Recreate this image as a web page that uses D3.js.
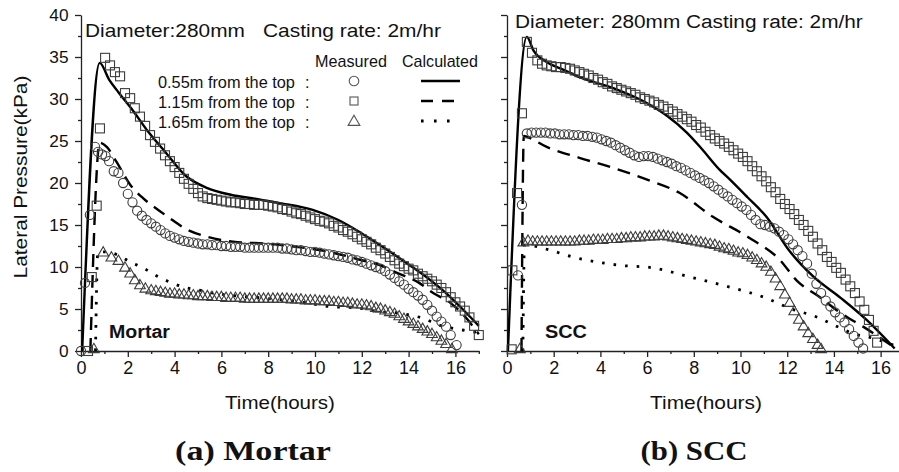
<!DOCTYPE html>
<html><head><meta charset="utf-8">
<script src="https://cdn.jsdelivr.net/npm/d3@7"></script>
<style>body{margin:0;background:#fff}svg{display:block}</style>
</head><body>
<svg id="c" width="899" height="472"></svg>
<script>
// ---------- DATA ----------
const xTickValues = [0, 2, 4, 6, 8, 10, 12, 14, 16];
const yTickValues = [0, 5, 10, 15, 20, 25, 30, 35, 40];
const legendRows = ["0.55m from the top", "1.15m from the top", "1.65m from the top"];
const legendHeads = ["Measured", "Calculated"];

// (a) Mortar — measured [time h, pressure kPa]
const mortarCircles = [[0.0,0],[0.17,8.1],[0.38,16.2],[0.6,24.3],[0.73,23.7],[0.9,23.4],[1.05,23.2],[1.2,22.6],[1.4,21.4],[1.6,21.2],[1.8,20.0],[2.0,18.7],[2.2,17.7],[2.4,16.7],[2.6,16.1],[2.8,15.6],[3.0,15.2],[3.2,14.8],[3.4,14.4],[3.6,14.0],[3.8,13.7],[4.0,13.5],[4.2,13.3],[4.4,13.1],[4.6,13.0],[4.8,12.9],[5.0,12.8],[5.2,12.7],[5.4,12.7],[5.6,12.6],[5.8,12.6],[6.0,12.5],[6.2,12.5],[6.4,12.4],[6.6,12.4],[6.8,12.4],[7.0,12.3],[7.2,12.3],[7.4,12.3],[7.6,12.3],[7.8,12.3],[8.0,12.3],[8.2,12.3],[8.4,12.3],[8.6,12.2],[8.8,12.2],[9.0,12.1],[9.2,12.0],[9.4,12.0],[9.6,11.9],[9.8,11.8],[10.0,11.8],[10.2,11.7],[10.4,11.6],[10.6,11.5],[10.8,11.4],[11.0,11.3],[11.2,11.2],[11.4,11.1],[11.6,10.9],[11.8,10.8],[12.0,10.6],[12.2,10.4],[12.4,10.2],[12.6,10.0],[12.8,9.8],[13.0,9.5],[13.2,9.1],[13.4,8.7],[13.6,8.3],[13.8,7.9],[14.0,7.4],[14.2,7.0],[14.4,6.6],[14.6,6.1],[14.8,5.5],[15.0,4.8],[15.2,4.1],[15.4,3.5],[15.6,2.9],[15.8,1.9],[16.05,0.7]];
const mortarSquares = [[0.3,0],[0.46,8.8],[0.67,17.3],[0.81,26.5],[1.03,34.9],[1.24,34.0],[1.45,33.2],[1.67,32.7],[1.88,30.7],[2.1,30.1],[2.3,28.9],[2.52,27.9],[2.74,26.8],[2.95,25.7],[3.16,24.9],[3.38,24.1],[3.59,23.3],[3.8,22.6],[4.0,21.9],[4.2,21.2],[4.4,20.5],[4.6,19.9],[4.8,19.3],[5.0,18.8],[5.2,18.4],[5.4,18.2],[5.6,18.1],[5.8,18.0],[6.0,17.9],[6.2,17.8],[6.4,17.7],[6.6,17.7],[6.8,17.6],[7.0,17.5],[7.2,17.5],[7.4,17.4],[7.6,17.4],[7.8,17.4],[8.0,17.3],[8.2,17.2],[8.4,17.1],[8.6,16.9],[8.8,16.8],[9.0,16.6],[9.2,16.4],[9.4,16.3],[9.6,16.1],[9.8,15.9],[10.0,15.7],[10.2,15.5],[10.4,15.4],[10.6,15.2],[10.8,14.9],[11.0,14.7],[11.2,14.4],[11.4,14.2],[11.6,13.9],[11.8,13.6],[12.0,13.3],[12.2,13.0],[12.4,12.7],[12.6,12.3],[12.8,12.0],[13.0,11.6],[13.2,11.2],[13.4,10.8],[13.6,10.4],[13.8,10.1],[14.0,9.8],[14.2,9.6],[14.4,9.2],[14.6,8.9],[14.8,8.6],[15.0,8.3],[15.2,7.9],[15.4,7.5],[15.6,7.0],[15.8,6.4],[16.0,5.8],[16.2,5.3],[16.4,4.8],[16.6,4.0],[16.8,3.0],[17.0,1.9]];
const mortarTriangles = [[0.55,0.3],[0.95,11.8],[1.3,11.2],[1.6,10.8],[1.88,10.0],[2.1,9.3],[2.3,8.5],[2.52,7.9],[2.75,7.5],[3.0,7.3],[3.2,7.2],[3.4,7.1],[3.6,7.0],[3.8,6.9],[4.0,6.9],[4.2,6.8],[4.4,6.8],[4.6,6.7],[4.8,6.7],[5.0,6.6],[5.2,6.6],[5.4,6.6],[5.6,6.5],[5.8,6.5],[6.0,6.5],[6.2,6.4],[6.4,6.4],[6.6,6.4],[6.8,6.4],[7.0,6.3],[7.2,6.3],[7.4,6.3],[7.6,6.3],[7.8,6.3],[8.0,6.3],[8.2,6.3],[8.4,6.3],[8.6,6.3],[8.8,6.3],[9.0,6.2],[9.2,6.2],[9.4,6.2],[9.6,6.1],[9.8,6.1],[10.0,6.1],[10.2,6.0],[10.4,6.0],[10.6,6.0],[10.8,5.9],[11.0,5.9],[11.2,5.8],[11.4,5.8],[11.6,5.7],[11.8,5.6],[12.0,5.6],[12.2,5.5],[12.4,5.4],[12.6,5.2],[12.8,5.1],[13.0,4.9],[13.2,4.7],[13.4,4.5],[13.6,4.2],[13.8,3.9],[14.0,3.6],[14.2,3.3],[14.4,3.0],[14.6,2.7],[14.8,2.4],[15.0,2.1],[15.2,1.7],[15.4,1.3],[15.6,0.9],[15.85,0.3]];
// (a) Mortar — calculated
const mortarSolid = [[0.05,0],[0.8,34.3],[1.2,32.3],[1.6,30.8],[2.2,28.7],[2.9,26.0],[3.6,23.7],[4.5,20.8],[5.4,19.4],[6.4,18.6],[7.5,18.1],[8.5,17.6],[9.9,16.8],[11.0,15.6],[12.0,14.0],[13.0,12.2],[14.0,10.3],[14.9,8.5],[15.6,6.9],[16.3,5.0],[17.0,3.0]];
const mortarDashed = [[0.4,0],[0.8,24.8],[1.1,24.3],[1.5,22.6],[2.1,19.8],[2.65,18.2],[3.2,17.0],[3.7,16.0],[4.5,14.5],[5.4,13.6],[6.5,13.0],[7.8,12.8],[9.2,12.4],[10.6,11.8],[12.0,10.8],[12.8,10.2],[13.5,9.3],[14.4,8.2],[15.05,6.9],[15.8,5.7],[16.5,3.8],[17.0,2.0]];
const mortarDotted = [[0.62,0],[0.72,11.8],[1.03,11.8],[1.6,11.4],[2.1,10.6],[2.65,9.9],[3.2,9.0],[3.8,8.2],[4.4,7.6],[4.95,7.3],[5.65,6.9],[6.5,6.6],[7.8,6.3],[9.7,5.7],[10.6,5.3],[11.9,5.1],[12.6,4.7],[13.6,4.5],[14.6,3.9],[15.3,3.1],[16.3,2.5],[17.0,2.2]];

// (b) SCC — measured
const sccCircles = [[0.47,9.0],[0.64,17.4],[0.85,25.9],[1.05,26.0],[1.25,26.0],[1.45,26.0],[1.65,26.0],[1.85,25.9],[2.05,25.9],[2.25,25.8],[2.45,25.8],[2.65,25.8],[2.85,25.7],[3.05,25.7],[3.25,25.6],[3.45,25.6],[3.65,25.5],[3.85,25.4],[4.05,25.2],[4.25,25.0],[4.45,24.8],[4.65,24.5],[4.85,24.2],[5.05,23.9],[5.25,23.6],[5.45,23.3],[5.65,23.1],[5.85,23.2],[6.05,23.2],[6.25,23.1],[6.45,22.9],[6.65,22.7],[6.85,22.5],[7.05,22.3],[7.25,22.0],[7.45,21.8],[7.65,21.5],[7.85,21.2],[8.05,20.9],[8.25,20.6],[8.45,20.3],[8.65,20.0],[8.85,19.6],[9.05,19.2],[9.25,18.8],[9.45,18.4],[9.65,18.0],[9.85,17.6],[10.05,17.2],[10.25,16.8],[10.45,16.2],[10.65,15.6],[10.85,15.1],[11.05,15.0],[11.25,14.8],[11.45,14.6],[11.65,14.2],[11.85,13.8],[12.05,13.3],[12.25,12.7],[12.45,12.0],[12.65,11.3],[12.85,10.4],[13.05,9.2],[13.25,8.0],[13.45,6.9],[13.65,6.0],[13.85,5.3],[14.05,4.6],[14.25,4.0],[14.45,3.4],[14.65,2.6],[14.85,1.8],[15.05,1.0],[15.25,0.3]];
const sccSquares = [[0.2,0.2],[0.23,9.6],[0.43,18.8],[0.64,28.3],[0.85,36.8],[1.07,35.5],[1.3,34.6],[1.5,34.2],[1.7,34.0],[1.9,33.9],[2.1,33.8],[2.3,33.8],[2.5,33.7],[2.7,33.6],[2.9,33.4],[3.1,33.2],[3.3,33.0],[3.5,32.8],[3.7,32.5],[3.9,32.3],[4.1,32.0],[4.3,31.8],[4.5,31.5],[4.7,31.3],[4.9,31.1],[5.1,30.9],[5.3,30.7],[5.5,30.5],[5.7,30.2],[5.9,30.0],[6.1,29.8],[6.3,29.6],[6.5,29.3],[6.7,29.1],[6.9,28.8],[7.1,28.5],[7.3,28.2],[7.5,27.9],[7.7,27.6],[7.9,27.3],[8.1,26.9],[8.3,26.6],[8.5,26.1],[8.7,25.7],[8.9,25.3],[9.1,25.0],[9.3,24.7],[9.5,24.3],[9.7,23.9],[9.9,23.5],[10.1,23.1],[10.3,22.6],[10.5,22.0],[10.7,21.4],[10.9,20.8],[11.1,20.2],[11.3,19.5],[11.5,18.9],[11.7,18.1],[11.9,17.5],[12.1,16.9],[12.3,16.3],[12.5,15.6],[12.7,15.0],[12.9,14.3],[13.1,13.6],[13.3,12.8],[13.5,12.0],[13.7,11.2],[13.9,10.6],[14.1,9.9],[14.3,9.3],[14.5,8.5],[14.7,7.7],[14.9,6.9],[15.1,5.9],[15.3,4.9],[15.5,3.7],[15.7,2.4],[15.85,1.0]];
const sccTriangles = [[0.55,0.3],[0.7,13.0],[0.9,13.2],[1.1,13.1],[1.3,13.1],[1.5,13.1],[1.7,13.1],[1.9,13.1],[2.1,13.1],[2.3,13.1],[2.5,13.1],[2.7,13.1],[2.9,13.1],[3.1,13.2],[3.3,13.2],[3.5,13.2],[3.7,13.3],[3.9,13.3],[4.1,13.3],[4.3,13.4],[4.5,13.4],[4.7,13.4],[4.9,13.5],[5.1,13.5],[5.3,13.6],[5.5,13.6],[5.7,13.6],[5.9,13.7],[6.1,13.7],[6.3,13.7],[6.5,13.8],[6.7,13.8],[6.9,13.7],[7.1,13.6],[7.3,13.5],[7.5,13.4],[7.7,13.3],[7.9,13.2],[8.1,13.1],[8.3,13.0],[8.5,12.9],[8.7,12.8],[8.9,12.7],[9.1,12.5],[9.3,12.3],[9.5,12.2],[9.7,12.0],[9.9,11.8],[10.1,11.7],[10.3,11.5],[10.5,11.2],[10.7,10.9],[10.9,10.5],[11.1,10.1],[11.3,9.5],[11.5,8.7],[11.7,7.8],[11.9,6.8],[12.1,5.8],[12.3,4.8],[12.5,3.8],[12.7,3.0],[12.9,2.2],[13.1,1.5],[13.3,0.8],[13.45,0.3]];
// (b) SCC — calculated
const sccSolid = [[0.04,0],[0.85,37.4],[1.13,35.8],[1.7,34.4],[2.4,33.5],[3.1,32.6],[4.55,31.3],[6.0,29.5],[6.85,28.0],[7.7,26.0],[8.3,24.2],[9.1,21.6],[9.55,20.4],[10.3,18.3],[11.1,16.0],[12.1,11.9],[13.1,8.9],[14.3,6.3],[15.4,3.7],[16.6,0.3]];
const sccDashed = [[0.62,0],[0.72,25.6],[0.85,25.5],[1.7,24.3],[3.1,23.0],[4.55,21.8],[6.0,20.4],[7.4,18.8],[8.8,16.0],[10.3,13.6],[11.7,10.8],[12.4,8.4],[13.4,6.4],[14.3,4.5],[15.25,2.9],[16.55,0.5]];
const sccDotted = [[0.68,0],[0.75,12.6],[0.85,12.6],[1.85,12.0],[2.8,11.2],[3.85,10.6],[4.85,10.2],[6.25,9.9],[7.85,8.8],[9.55,7.6],[11.1,6.3],[12.1,5.1],[13.3,4.0],[14.0,3.1],[14.8,2.1],[15.7,1.5],[16.55,0.7]];

// ---------- DRAW ----------
const svg = d3.select("#c");
const SANS = "'Liberation Sans', Arial, Helvetica, sans-serif";
const SERIF = "'Liberation Serif', 'Times New Roman', serif";
const MK = "#3c3c3c";

// text whose glyphs are stretched horizontally to a target width
function txt(g, s, x, y, o) {
  const t = g.append("text").attr("x", 0).attr("y", 0).text(s)
    .attr("font-family", o.family || SANS).attr("font-size", o.size)
    .attr("fill", "#111");
  if (o.weight) t.attr("font-weight", o.weight);
  if (o.anchor) t.attr("text-anchor", o.anchor);
  let sx = 1;
  if (o.len) {
    const w = t.node().getComputedTextLength();
    if (w > 0) sx = o.len / w;
  }
  t.attr("transform", `translate(${x},${y})` + (o.rot ? ` rotate(${o.rot})` : "") + ` scale(${sx},1)`);
  return t;
}

const triSym = d3.symbol(d3.symbolTriangle, 50);

function drawMarkers(g, data, x, y, kind) {
  const sel = g.append("g").attr("fill", "none").attr("stroke", MK).attr("stroke-width", 1.1);
  if (kind === "circle") {
    sel.selectAll("circle").data(data).join("circle")
      .attr("cx", d => x(d[0])).attr("cy", d => y(d[1])).attr("r", 4.6);
  } else if (kind === "square") {
    sel.selectAll("rect").data(data).join("rect")
      .attr("x", d => x(d[0]) - 4.5).attr("y", d => y(d[1]) - 4.5).attr("width", 9).attr("height", 9);
  } else {
    sel.selectAll("path").data(data).join("path")
      .attr("d", triSym).attr("transform", d => `translate(${x(d[0])},${y(d[1]) + 1})`);
  }
}

function drawLine(g, data, x, y, style) {
  const line = d3.line().x(d => x(d[0])).y(d => y(d[1])).curve(d3.curveMonotoneX);
  const p = g.append("path").datum(data).attr("d", line).attr("fill", "none")
    .attr("stroke", "#000").attr("stroke-width", 2.4);
  if (style === "dash") p.attr("stroke-dasharray", "13,8");
  if (style === "dot") p.attr("stroke-dasharray", "2.6,9").attr("stroke-width", 2.8);
}

function drawAxes(g, x, y, showYLabels) {
  const x0 = x.range()[0];
  const y0 = y.range()[0];
  const minorX = d3.range(1, Math.floor(x.domain()[1]) + 1, 2);
  const minorY = [2.5, 7.5, 12.5, 17.5, 22.5, 27.5, 32.5, 37.5];
  g.append("g").attr("transform", `translate(0,${y0})`)
    .call(d3.axisBottom(x).tickValues(minorX).tickSize(3).tickFormat("").tickSizeOuter(0))
    .call(a => a.select(".domain").remove());
  g.append("g").attr("transform", `translate(${x0},0)`)
    .call(d3.axisLeft(y).tickValues(minorY).tickSize(3).tickFormat("").tickSizeOuter(0))
    .call(a => a.select(".domain").remove());
  const ax = g.append("g").attr("transform", `translate(0,${y0})`)
    .call(d3.axisBottom(x).tickValues(xTickValues).tickSize(6).tickSizeOuter(0).tickPadding(4));
  ax.selectAll("text").attr("font-family", SANS).attr("font-size", 18).attr("fill", "#111").attr("dy", "0.72em");
  const ay = g.append("g").attr("transform", `translate(${x0},0)`)
    .call(d3.axisLeft(y).tickValues(yTickValues).tickSize(6).tickSizeOuter(0).tickPadding(5));
  ay.selectAll("text").attr("font-family", SANS).attr("font-size", 16).attr("fill", "#111")
    .attr("transform", "scale(1.08,1)").attr("dx", "-0.5");
  if (!showYLabels) ay.selectAll("text").remove();
  g.selectAll(".domain").attr("stroke", "#222").attr("stroke-width", 1.3);
  g.selectAll(".tick line").attr("stroke", "#222").attr("stroke-width", 1.3);
}

const yScale = d3.scaleLinear().domain([0, 40]).range([351, 15]);
const xLeft = d3.scaleLinear().domain([0, 17]).range([81, 478.8]);
const xRight = d3.scaleLinear().domain([0, 16.8]).range([507, 899.3]);

// ----- panel (a)
const gA = svg.append("g");
drawAxes(gA, xLeft, yScale, true);
drawLine(gA, mortarSolid, xLeft, yScale, "solid");
drawLine(gA, mortarDashed, xLeft, yScale, "dash");
drawLine(gA, mortarDotted, xLeft, yScale, "dot");
drawMarkers(gA, mortarSquares, xLeft, yScale, "square");
drawMarkers(gA, mortarCircles, xLeft, yScale, "circle");
drawMarkers(gA, mortarTriangles, xLeft, yScale, "triangle");

txt(gA, "Diameter:280mm", 85, 37, {size: 18, len: 160});
txt(gA, "Casting rate: 2m/hr", 263, 37, {size: 18, len: 178});
txt(gA, "Mortar", 109, 338, {size: 18, weight: "bold", len: 61});
txt(gA, "Lateral Pressure(kPa)", 27, 177, {size: 18, anchor: "middle", rot: -90, len: 203});
txt(gA, "Time(hours)", 280, 409, {size: 18, anchor: "middle", len: 110});
txt(gA, "(a) Mortar", 253, 460, {size: 28, weight: "bold", family: SERIF, anchor: "middle", len: 156});

// legend
const lg = gA.append("g");
txt(lg, legendHeads[0], 315, 67, {size: 16, len: 72});
txt(lg, legendHeads[1], 402, 67, {size: 16, len: 76});
const rowY = [81, 101, 121];
legendRows.forEach((r, i) => {
  txt(lg, r, 158, rowY[i] + 7, {size: 16, len: 137});
  txt(lg, ":", 305, rowY[i] + 7, {size: 16});
});
lg.append("circle").attr("cx", 354).attr("cy", rowY[0]).attr("r", 4.8)
  .attr("fill", "none").attr("stroke", "#555").attr("stroke-width", 1.1);
lg.append("rect").attr("x", 350).attr("y", rowY[1] - 4).attr("width", 8).attr("height", 8)
  .attr("fill", "none").attr("stroke", "#555").attr("stroke-width", 1.1);
lg.append("path").attr("d", d3.symbol(d3.symbolTriangle, 60)).attr("transform", `translate(354,${rowY[2] + 1})`)
  .attr("fill", "none").attr("stroke", "#555").attr("stroke-width", 1.1);
lg.append("line").attr("x1", 421).attr("x2", 460).attr("y1", rowY[0]).attr("y2", rowY[0]).attr("stroke", "#000").attr("stroke-width", 2.6);
lg.append("line").attr("x1", 421).attr("x2", 455).attr("y1", rowY[1]).attr("y2", rowY[1]).attr("stroke", "#000").attr("stroke-width", 2.6).attr("stroke-dasharray", "12,9");
lg.append("line").attr("x1", 421).attr("x2", 452).attr("y1", rowY[2]).attr("y2", rowY[2]).attr("stroke", "#000").attr("stroke-width", 3).attr("stroke-dasharray", "2.6,10.4");

// ----- panel (b)
const gB = svg.append("g");
drawAxes(gB, xRight, yScale, false);
drawLine(gB, sccSolid, xRight, yScale, "solid");
drawLine(gB, sccDashed, xRight, yScale, "dash");
drawLine(gB, sccDotted, xRight, yScale, "dot");
drawMarkers(gB, sccSquares, xRight, yScale, "square");
drawMarkers(gB, sccCircles, xRight, yScale, "circle");
drawMarkers(gB, sccTriangles, xRight, yScale, "triangle");

txt(gB, "Diameter: 280mm Casting rate: 2m/hr", 515, 28, {size: 18, len: 348});
txt(gB, "SCC", 545, 338, {size: 18, weight: "bold", len: 42});
txt(gB, "Time(hours)", 706, 409, {size: 18, anchor: "middle", len: 112});
txt(gB, "(b) SCC", 694, 460, {size: 28, weight: "bold", family: SERIF, anchor: "middle", len: 107});
</script>
</body></html>
